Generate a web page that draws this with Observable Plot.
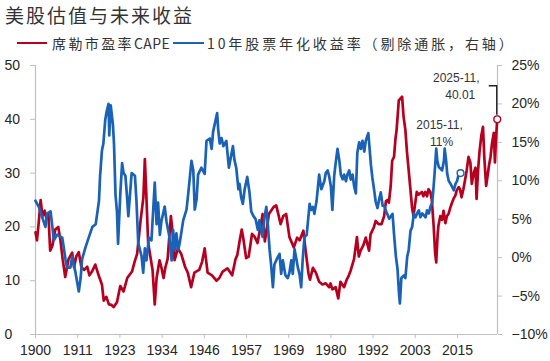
<!DOCTYPE html>
<html><head><meta charset="utf-8">
<script src="https://cdn.jsdelivr.net/npm/d3@7"></script>
<script src="https://cdn.jsdelivr.net/npm/@observablehq/plot@0.6"></script>
<style>
body{margin:0;background:#fff;width:550px;height:361px;position:relative;overflow:hidden;font-family:"Noto Sans CJK SC",sans-serif;}
#title{position:absolute;left:5px;top:4.5px;font-size:19px;letter-spacing:2px;color:#333;line-height:19px;white-space:nowrap;}
.lg{position:absolute;top:34px;font-size:14px;letter-spacing:2.4px;color:#333;line-height:18px;white-space:nowrap;}
#lg2{letter-spacing:2.9px;}
.lg .lat{letter-spacing:0.4px;}
.sw{position:absolute;top:41.5px;height:2.6px;}
#chart{position:absolute;left:0;top:52px;}
</style></head>
<body>
<div id="title"></div>
<div class="sw" id="sw1" style="left:17px;width:30px;"></div>
<div class="lg" id="lg1" style="left:52px;"></div>
<div class="sw" id="sw2" style="left:173px;width:31px;"></div>
<div class="lg" id="lg2" style="left:207px;"></div>
<div id="chart"></div>
<script>
// ---- texts ----
const titleText = "美股估值与未来收益";
const seriesNames = ["席勒市盈率", "CAPE", "10年股票年化收益率（剔除通胀，右轴）"];
const colors = {cape: "#B5001F", ret: "#1A62B6"};

// ---- data: Shiller CAPE (left axis), [year, value] ----
const capePoints = [[1900.0,19.0],[1900.4,17.5],[1900.9,21.0],[1901.4,25.0],[1901.9,22.0],[1902.5,23.0],[1903.0,21.5],[1903.5,22.5],[1904.0,15.6],[1904.6,16.5],[1905.4,19.5],[1906.2,20.0],[1906.8,17.5],[1907.4,14.0],[1908.1,10.7],[1909.0,14.0],[1910.0,15.2],[1910.5,12.5],[1911.1,14.5],[1911.8,15.3],[1912.5,12.5],[1913.3,12.0],[1914.1,12.6],[1914.7,11.0],[1915.4,11.7],[1916.3,13.0],[1917.2,11.0],[1918.1,9.3],[1918.6,6.3],[1919.3,7.0],[1920.0,5.6],[1920.7,5.5],[1921.3,5.1],[1922.2,6.0],[1923.1,9.0],[1924.0,8.0],[1925.0,10.5],[1926.3,11.7],[1927.0,13.5],[1927.7,15.0],[1928.6,21.0],[1929.4,25.5],[1929.8,32.6],[1930.2,26.0],[1930.7,17.0],[1931.3,14.5],[1931.9,12.0],[1932.5,5.6],[1933.0,10.5],[1933.8,13.8],[1934.3,12.5],[1934.9,10.5],[1935.4,12.5],[1936.0,14.0],[1936.9,22.0],[1937.5,18.0],[1937.9,13.8],[1938.8,16.0],[1939.7,15.0],[1940.8,12.5],[1941.5,11.5],[1942.4,8.8],[1943.3,11.5],[1944.6,12.0],[1945.4,13.5],[1946.1,16.0],[1946.9,11.5],[1948.1,11.0],[1949.3,10.0],[1950.1,10.5],[1951.0,11.7],[1952.3,12.3],[1953.6,11.0],[1954.5,14.0],[1955.0,14.8],[1955.6,17.3],[1956.2,19.5],[1956.6,18.0],[1957.4,14.2],[1958.1,14.5],[1959.0,18.7],[1959.7,18.2],[1960.5,17.0],[1961.3,20.0],[1961.9,22.4],[1962.5,17.3],[1963.0,19.5],[1963.6,22.4],[1964.9,23.7],[1965.6,24.0],[1966.3,22.0],[1966.8,20.5],[1967.5,22.0],[1968.3,22.4],[1969.2,18.1],[1970.4,16.2],[1971.3,18.0],[1972.0,17.5],[1973.0,19.3],[1973.5,16.2],[1974.4,11.3],[1974.8,10.2],[1975.6,12.4],[1976.4,11.5],[1977.3,9.8],[1978.2,9.3],[1979.1,9.5],[1980.0,8.8],[1980.4,9.5],[1980.9,8.4],[1981.8,8.8],[1982.5,6.7],[1983.1,9.8],[1984.1,8.8],[1984.7,10.0],[1985.4,11.0],[1985.9,11.9],[1986.8,14.0],[1987.6,18.1],[1988.1,14.5],[1988.6,15.6],[1989.3,16.5],[1990.0,18.0],[1990.9,15.6],[1991.3,18.6],[1992.2,19.9],[1992.7,21.1],[1993.5,20.5],[1994.3,20.5],[1995.0,22.0],[1995.5,24.8],[1995.9,25.0],[1996.3,24.5],[1996.8,27.6],[1997.2,32.3],[1997.7,33.0],[1998.1,36.4],[1998.4,38.0],[1998.6,39.8],[1999.0,43.5],[1999.5,43.9],[1999.9,44.2],[2000.3,40.5],[2000.8,38.0],[2001.2,34.2],[2001.7,30.5],[2002.1,27.5],[2002.6,23.7],[2003.0,22.0],[2003.5,24.5],[2003.9,26.5],[2004.4,26.0],[2005.3,26.5],[2005.7,25.7],[2006.2,26.5],[2006.7,25.7],[2007.1,27.0],[2007.6,26.5],[2008.0,25.0],[2008.5,20.2],[2008.9,15.2],[2009.2,13.4],[2009.6,18.7],[2009.8,20.2],[2010.3,22.0],[2010.8,21.3],[2011.2,23.0],[2011.7,20.7],[2012.1,22.0],[2012.6,22.5],[2013.0,23.5],[2013.5,24.5],[2013.9,25.2],[2014.4,25.8],[2014.8,26.8],[2015.3,27.4],[2015.7,27.0],[2016.1,25.5],[2016.6,27.0],[2017.0,28.5],[2017.5,30.5],[2018.0,33.0],[2018.5,32.0],[2018.9,28.0],[2019.4,30.0],[2019.9,31.0],[2020.2,25.2],[2020.6,30.5],[2021.0,34.0],[2021.5,37.0],[2021.95,38.6],[2022.3,33.0],[2022.8,27.6],[2023.2,29.5],[2023.6,31.5],[2024.0,33.0],[2024.4,35.5],[2024.9,37.5],[2025.2,32.0],[2025.5,36.5],[2025.83,40.01]];

// ---- data: 10-year real annualized return (right axis, %), [year, pct] ----
const returnPoints = [[1900.0,7.4],[1900.9,6.6],[1901.8,5.3],[1902.7,4.0],[1903.2,5.75],[1904.1,6.0],[1904.6,4.0],[1905.0,2.25],[1905.9,3.0],[1907.3,2.6],[1908.2,-0.3],[1908.6,-1.3],[1909.5,-1.3],[1910.0,0.15],[1910.9,-1.95],[1911.8,-4.4],[1912.3,-2.65],[1912.7,-0.2],[1913.6,1.3],[1914.5,2.6],[1915.5,4.0],[1916.4,4.35],[1916.8,5.7],[1917.3,7.4],[1917.6,10.6],[1918.1,13.9],[1918.5,14.85],[1919.0,17.9],[1919.4,19.05],[1919.9,20.0],[1920.1,15.9],[1920.5,19.8],[1921.1,17.3],[1921.4,14.7],[1921.8,8.2],[1922.2,6.0],[1922.5,1.8],[1923.1,8.2],[1923.6,12.3],[1924.0,11.0],[1924.5,10.65],[1924.9,8.2],[1925.3,5.4],[1926.2,11.0],[1927.1,10.65],[1927.5,7.5],[1928.0,1.9],[1928.9,0.2],[1929.35,-1.95],[1929.8,1.2],[1930.25,-0.35],[1930.9,2.6],[1931.6,2.25],[1932.5,9.75],[1933.0,4.35],[1933.4,7.15],[1933.9,2.95],[1934.3,4.7],[1935.2,6.65],[1935.7,4.7],[1936.4,2.95],[1937.1,-0.35],[1937.5,3.6],[1938.0,1.0],[1938.4,3.15],[1938.9,1.0],[1939.3,1.9],[1940.25,4.85],[1941.15,6.25],[1941.6,8.2],[1942.5,12.6],[1943.0,11.35],[1943.4,6.25],[1943.9,7.6],[1944.3,10.8],[1945.2,11.7],[1946.1,10.9],[1946.6,15.2],[1947.5,15.5],[1948.0,14.15],[1948.4,16.4],[1949.5,18.8],[1949.8,16.6],[1950.2,14.85],[1950.7,15.55],[1951.2,14.5],[1952.0,15.2],[1952.7,11.7],[1953.8,14.5],[1954.2,12.75],[1954.7,11.7],[1955.3,8.9],[1955.6,9.6],[1956.05,7.85],[1956.5,7.0],[1957.0,8.9],[1957.7,10.5],[1958.3,8.55],[1958.8,6.0],[1959.4,5.4],[1959.95,5.05],[1960.6,3.6],[1961.0,4.85],[1961.5,3.6],[1961.9,2.7],[1962.4,5.25],[1962.9,6.6],[1963.3,4.35],[1963.8,1.0],[1964.2,-0.9],[1964.7,-3.85],[1965.1,-0.9],[1965.75,-0.2],[1966.5,0.5],[1966.95,-2.1],[1967.4,-0.35],[1968.1,-2.3],[1968.75,-2.65],[1969.2,-1.95],[1969.7,-0.35],[1970.1,-2.1],[1970.6,1.1],[1971.5,-1.3],[1971.95,-2.15],[1972.4,-3.85],[1972.8,-0.35],[1973.3,2.7],[1973.9,2.95],[1974.7,7.0],[1975.1,6.2],[1975.6,6.6],[1976.0,5.7],[1976.6,7.4],[1977.3,10.8],[1977.9,8.9],[1978.7,9.95],[1979.1,11.0],[1979.6,11.35],[1980.0,10.65],[1980.5,9.25],[1980.9,6.2],[1981.4,10.65],[1981.8,12.3],[1982.3,14.15],[1982.8,12.6],[1983.2,10.8],[1983.7,10.2],[1984.1,10.8],[1984.6,9.95],[1985.0,10.8],[1985.5,11.35],[1985.9,10.15],[1986.4,10.8],[1986.85,9.25],[1987.3,8.35],[1987.7,13.65],[1988.2,15.0],[1988.65,14.15],[1989.1,15.2],[1989.6,13.8],[1990.0,15.2],[1990.7,16.2],[1991.4,12.1],[1991.8,10.4],[1992.3,8.75],[1992.7,7.3],[1993.2,6.45],[1993.7,7.7],[1994.1,8.5],[1994.6,6.75],[1995.0,6.75],[1995.65,5.9],[1996.4,5.05],[1997.3,5.7],[1997.7,3.1],[1998.2,0.2],[1998.65,-1.45],[1999.1,-4.95],[1999.3,-5.95],[1999.7,-2.65],[2000.4,-2.3],[2000.8,-2.65],[2001.3,0.15],[2001.7,1.0],[2002.2,3.5],[2002.65,4.0],[2003.1,5.75],[2003.55,5.25],[2004.0,5.75],[2004.45,6.15],[2004.9,5.25],[2005.4,5.75],[2006.3,5.25],[2006.7,6.15],[2007.2,5.75],[2007.6,6.6],[2008.1,7.1],[2008.5,9.3],[2009.0,12.6],[2009.2,14.2],[2009.5,12.6],[2009.9,11.8],[2010.8,11.35],[2011.3,12.6],[2011.5,14.2],[2011.9,12.6],[2012.2,10.9],[2012.6,10.0],[2013.1,9.6],[2013.55,9.2],[2014.0,8.75],[2014.45,9.6],[2014.9,10.0],[2015.35,10.9],[2015.83,11.0]];

// ---- ticks ----
const leftTicks = [0, 10, 20, 30, 40, 50];
const rightTicks = [-10, -5, 0, 5, 10, 15, 20, 25];
const xTickLabels = ["1900","1911","1923","1934","1946","1957","1969","1980","1992","2003","2015"];
const xTickStepMonths = 138;
const xDomain = [1900, 2025.9];

// ---- annotations ----
const noteCape = {year: 2025.83, value: 40.01, lines: ["2025-11,", "40.01"]};
const noteRet = {year: 2015.83, pct: 11, lines: ["2015-11,", "11%"]};

// ---- page text ----
document.getElementById("title").textContent = titleText;
document.getElementById("sw1").style.background = colors.cape;
document.getElementById("sw2").style.background = colors.ret;
document.getElementById("lg1").innerHTML = seriesNames[0] + '<span class="lat">' + seriesNames[1] + '</span>';
document.getElementById("lg2").textContent = seriesNames[2];

const toLeft = p => (p + 10) * 50 / 35;
const fromLeft = v => v * 35 / 50 - 10;
const xTicks = xTickLabels.map((_, i) => 1900 + i * xTickStepMonths / 12);
const capeData = capePoints.map(([year, value]) => ({year, value}));
const retData = returnPoints.map(([year, pct]) => ({year, value: toLeft(pct)}));
const axisGray = "#bfbfbf";
const txt = "#262626";

const chart = Plot.plot({
  width: 550, height: 309,
  marginLeft: 35, marginRight: 53, marginTop: 13, marginBottom: 27,
  x: {domain: xDomain},
  y: {domain: [0, 50]},
  style: {fontFamily: '"Liberation Sans", Arial, sans-serif', fontSize: "14px", background: "transparent", overflow: "visible"},
  marks: [
    Plot.ruleY([0], {stroke: axisGray, strokeWidth: 1.2}),
    Plot.ruleX([xDomain[0]], {stroke: axisGray, strokeWidth: 1.2}),
    Plot.ruleX([xDomain[1]], {stroke: axisGray, strokeWidth: 1.2}),
    Plot.axisX({ticks: xTicks, tickFormat: d => xTickLabels[xTicks.indexOf(d)], tickSize: 4, tickPadding: 7, stroke: axisGray, fill: txt, label: null}),
    Plot.axisY({anchor: "left", ticks: leftTicks, tickFormat: d => String(d), tickSize: 5, tickPadding: 26, textAnchor: "start", stroke: axisGray, fill: txt, label: null}),
    Plot.axisY({anchor: "right", ticks: rightTicks.map(toLeft), tickFormat: d => {const p = Math.round(fromLeft(d)); return (p < 0 ? "\u2212" + (-p) : p) + "%";}, tickSize: 4, tickPadding: 10, stroke: axisGray, fill: txt, label: null}),
    Plot.line(capeData, {x: "year", y: "value", stroke: colors.cape, strokeWidth: 2.7, strokeLinejoin: "round"}),
    Plot.line(retData, {x: "year", y: "value", stroke: colors.ret, strokeWidth: 2.7, strokeLinejoin: "round"}),
    Plot.dot([noteRet], {x: "year", y: d => toLeft(d.pct), r: 3.4, stroke: colors.ret, fill: "white", strokeWidth: 1.4}),
    Plot.dot([noteCape], {x: "year", y: "value", r: 3.4, stroke: colors.cape, fill: "white", strokeWidth: 1.4}),
    Plot.text([noteRet], {x: "year", y: d => toLeft(d.pct), text: d => d.lines[0], dx: -21, dy: -47.5, fontSize: 12, fill: "#333", textAnchor: "middle"}),
    Plot.text([noteRet], {x: "year", y: d => toLeft(d.pct), text: d => d.lines[1], dx: -19, dy: -31, fontSize: 12, fill: "#333", textAnchor: "middle"}),
    Plot.text([noteCape], {x: "year", y: "value", text: d => d.lines[0], dx: -41, dy: -41, fontSize: 12, fill: "#333", textAnchor: "middle"}),
    Plot.text([noteCape], {x: "year", y: "value", text: d => d.lines[1], dx: -37, dy: -24.5, fontSize: 12, fill: "#333", textAnchor: "middle"})
  ]
});
document.getElementById("chart").appendChild(chart);

// leader line for the latest CAPE point, positioned through the plot's own scales
const sx = chart.scale("x"), sy = chart.scale("y");
const px = sx.apply(noteCape.year), py = sy.apply(noteCape.value);
d3.select(chart).append("path")
  .attr("d", `M${px - 8},${py - 33}H${px}V${py - 4}`)
  .attr("fill", "none").attr("stroke", "#222").attr("stroke-width", 1.4);
</script>
</body></html>
